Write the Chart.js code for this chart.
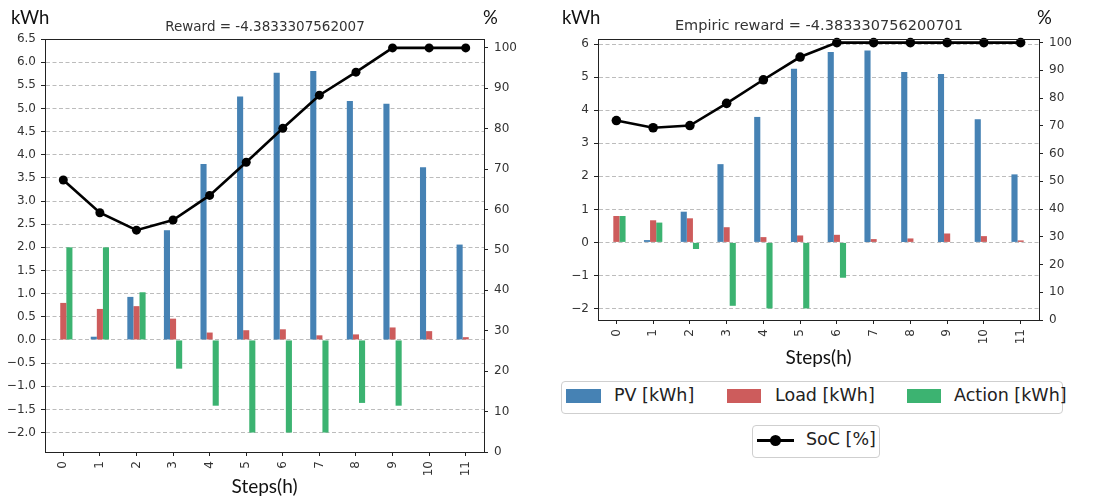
<!DOCTYPE html>
<html><head><meta charset="utf-8">
<script src="https://cdn.jsdelivr.net/npm/chart.js@4/dist/chart.umd.min.js"></script>
<style>
html,body{margin:0;padding:0;background:#fff;}
#wrap{position:relative;width:1114px;height:499px;overflow:hidden;background:#fff;}
.t{position:absolute;white-space:nowrap;line-height:1;}
.dv{font-family:"DejaVu Sans",sans-serif;}
.lt{font-family:Lato,"Open Sans",sans-serif;color:#111;}
.box{position:absolute;border:1px solid #cfcfcf;border-radius:4px;box-sizing:border-box;background:#fff;}
.sw{position:absolute;height:14px;}
</style></head><body>
<div id="wrap">
  <canvas id="c1" width="555" height="499" style="position:absolute;left:0;top:0;"></canvas>
  <canvas id="c2" width="559" height="372" style="position:absolute;left:555px;top:0;"></canvas>

  <div class="t lt" style="left:11px;top:8px;font-size:18.5px;">kWh</div>
  <div class="t lt" style="left:483px;top:8px;font-size:18.5px;">%</div>
  <div class="t dv" style="left:265px;top:20px;font-size:13.5px;color:#333;transform:translateX(-50%);">Reward = -4.3833307562007</div>

  <div class="t lt" style="left:562px;top:8px;font-size:18.5px;">kWh</div>
  <div class="t lt" style="left:1037px;top:8px;font-size:18.5px;">%</div>
  <div class="t dv" style="left:819px;top:18px;font-size:14.5px;color:#333;transform:translateX(-50%);">Empiric reward = -4.383330756200701</div>

  <div class="box" style="left:561px;top:381px;width:502px;height:33px;"></div>
  <div class="sw" style="left:566px;top:389px;width:35px;background:#4682b4;"></div>
  <div class="t dv" style="left:614px;top:387px;font-size:17.5px;color:#222;">PV [kWh]</div>
  <div class="sw" style="left:727px;top:389px;width:34px;background:#cd5c5c;"></div>
  <div class="t dv" style="left:775px;top:387px;font-size:17.5px;color:#222;">Load [kWh]</div>
  <div class="sw" style="left:907px;top:389px;width:34px;background:#3cb371;"></div>
  <div class="t dv" style="left:954px;top:387px;font-size:17.5px;color:#222;">Action [kWh]</div>

  <div class="box" style="left:752px;top:425px;width:128px;height:33px;"></div>
  <div style="position:absolute;left:757px;top:439px;width:37px;height:3px;background:#000;"></div>
  <div style="position:absolute;left:770px;top:435px;width:11px;height:11px;border-radius:50%;background:#000;"></div>
  <div class="t dv" style="left:806px;top:431px;font-size:17.5px;color:#222;">SoC [%]</div>
</div>
<script>
// ---- data ----
const steps = ['0','1','2','3','4','5','6','7','8','9','10','11'];
const pv = [0, 0.07, 0.93, 2.37, 3.80, 5.26, 5.77, 5.81, 5.16, 5.10, 3.73, 2.06];
const load = [0.80, 0.67, 0.73, 0.46, 0.16, 0.21, 0.23, 0.10, 0.12, 0.27, 0.19, 0.06];
const actionReward = [2.0, 2.0, 1.03, -0.62, -1.42, -2.0, -2.0, -2.0, -1.36, -1.42, 0, 0];
const socReward = [67.3, 59.2, 54.9, 57.4, 63.5, 71.7, 80.1, 88.3, 94.0, 100, 100, 100];
const actionEmpiric = [0.80, 0.60, -0.20, -1.92, -2.0, -2.0, -1.07, 0, 0, 0, 0, 0];
const socEmpiric = [71.9, 69.3, 70.1, 78.1, 86.6, 94.8, 100, 100, 100, 100, 100, 100];
const kwhTicksReward = [-2.0,-1.5,-1.0,-0.5,0.0,0.5,1.0,1.5,2.0,2.5,3.0,3.5,4.0,4.5,5.0,5.5,6.0,6.5];
const kwhTicksEmpiric = [-2,-1,0,1,2,3,4,5,6];
const socTicks = [0,10,20,30,40,50,60,70,80,90,100];
const seriesNames = ['PV [kWh]','Load [kWh]','Action [kWh]','SoC [%]'];

const COL = {pv:'#4682b4', load:'#cd5c5c', action:'#3cb371', soc:'#000000'};
const FONT = {family:'DejaVu Sans', size:12};
const fmt = (v, d) => (v < 0 ? '\u2212' : '') + Math.abs(v).toFixed(d);

const frame = {
  id:'frame',
  afterDraw(chart){
    const a = chart.chartArea, c = chart.ctx;
    c.save(); c.strokeStyle = '#222'; c.lineWidth = 1;
    c.beginPath(); c.moveTo(a.left, Math.floor(a.top)+0.5); c.lineTo(a.right+0.5, Math.floor(a.top)+0.5); c.stroke();
    c.restore();
  }
};

function makeChart(id, action, soc, kwhTicks, dec, L){
  return new Chart(document.getElementById(id), {
    type:'bar',
    data:{
      labels: steps,
      datasets:[
        {label:seriesNames[0], data:pv, backgroundColor:COL.pv, yAxisID:'y', order:1, categoryPercentage:0.5, barPercentage:1.0},
        {label:seriesNames[1], data:load, backgroundColor:COL.load, yAxisID:'y', order:1, categoryPercentage:0.5, barPercentage:1.0},
        {label:seriesNames[2], data:action, backgroundColor:COL.action, yAxisID:'y', order:1, categoryPercentage:0.5, barPercentage:1.0},
        {type:'line', label:seriesNames[3], data:soc, yAxisID:'yr', order:0, borderColor:COL.soc, backgroundColor:COL.soc,
         borderWidth:2.6, pointRadius:L.pr, pointHoverRadius:L.pr, pointBackgroundColor:COL.soc, pointBorderWidth:0, tension:0, clip:false}
      ]
    },
    options:{
      responsive:false, animation:false, devicePixelRatio:1,
      layout:{padding:{top:L.top, left:0, right:0, bottom:0}},
      plugins:{legend:{display:false}, title:{display:false}, tooltip:{enabled:false}},
      scales:{
        x:{
          grid:{drawOnChartArea:false, offset:false, tickLength:4, tickColor:'#222'},
          border:{color:'#222', width:1},
          ticks:{font:FONT, color:'#333', minRotation:90, maxRotation:90, autoSkip:false, padding:5},
          title:{display:true, text:'Steps(h)', font:{family:'Lato', size:19, lineHeight:1.2}, color:'#111', padding:{top:0, bottom:L.xtb}},
          afterFit: s => { s.height = L.xh; }
        },
        y:{
          position:'left', min:L.ymin, max:L.ymax,
          afterBuildTicks: s => { s.ticks = kwhTicks.map(v => ({value:v})); },
          grid:{color:'#bcbcbc', lineWidth:1, tickLength:4, tickColor:'#222', tickBorderDash:[]},
          border:{color:'#222', width:1, dash:[4,2.5]},
          ticks:{font:FONT, color:'#333', padding:5, callback: v => fmt(v, dec)},
          afterFit: s => { s.width = L.yl; }
        },
        yr:{
          position:'right', min:0, max:L.rmax,
          afterBuildTicks: s => { s.ticks = socTicks.map(v => ({value:v})); },
          grid:{drawOnChartArea:false, tickLength:4, tickColor:'#222'},
          border:{color:'#222', width:1},
          ticks:{font:FONT, color:'#333', padding:6, callback: v => String(v)},
          afterFit: s => { s.width = L.yr; }
        }
      }
    },
    plugins:[frame]
  });
}

makeChart('c1', actionReward, socReward, kwhTicksReward, 1,
  {top:39, xh:47, yl:45, yr:71, ymin:-2.42, ymax:6.5, rmax:102.2, xtb:1, pr:4.5});
makeChart('c2', actionEmpiric, socEmpiric, kwhTicksEmpiric, 0,
  {top:39, xh:52, yl:43, yr:75, ymin:-2.35, ymax:6.16, rmax:101.3, xtb:3, pr:4.8});
</script>
</body></html>
